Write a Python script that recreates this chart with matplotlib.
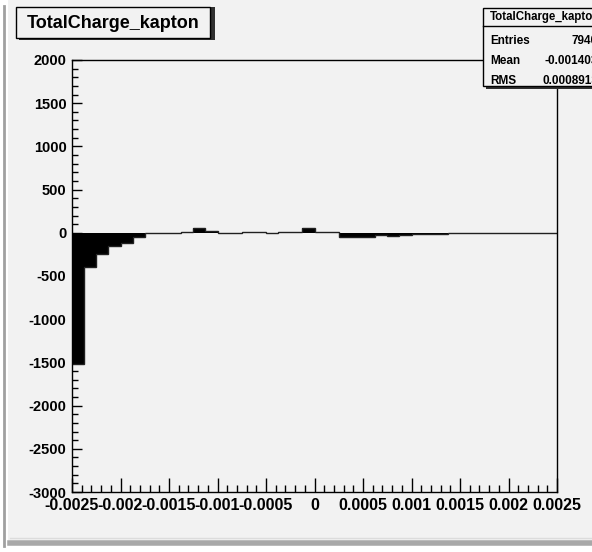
import numpy as np
import matplotlib
matplotlib.use("Agg")
import matplotlib.pyplot as plt
from matplotlib.patches import Rectangle
from matplotlib.lines import Line2D

# histogram TotalCharge_kapton, 40 bins in [-0.0025, 0.0025]
x_min, x_max = -0.0025, 0.0025
n_bins = 40
counts = [-1520, -400, -240, -150, -120, -45, -8, -5, -5, 10,
          50, 18, -3, -3, 10, 10, -2, 10, 5, 60,
          10, 15, -45, -50, -45, -30, -35, -25, -15, -10,
          -10, -8, 0, 0, 0, 0, 0, 0, 0, 0]

x_ticks = [-0.0025, -0.002, -0.0015, -0.001, -0.0005, 0, 0.0005, 0.001, 0.0015, 0.002, 0.0025]
x_labels = ["-0.0025", "-0.002", "-0.0015", "-0.001", "-0.0005", "0",
            "0.0005", "0.001", "0.0015", "0.002", "0.0025"]
y_ticks = [-3000, -2500, -2000, -1500, -1000, -500, 0, 500, 1000, 1500, 2000]

title = "TotalCharge_kapton"
stat_names = ["Entries", "Mean", "RMS"]
stat_values = ["7940", "-0.001403", "0.0008913"]

W, H = 592, 552
PAD = "#f2f2f2"
plt.rcParams["font.family"] = ["Liberation Sans", "DejaVu Sans"]
plt.rcParams["font.weight"] = "bold"


def fx(px):
    return px / W


def fy(py):
    return 1 - py / H


fig = plt.figure(figsize=(W / 100, H / 100), dpi=100, facecolor="white")

# canvas background and window border
fig.patches.append(Rectangle((fx(8), fy(540)), fx(W), 540 / H, transform=fig.transFigure,
                             facecolor=PAD, edgecolor="none", zorder=-10))
fig.lines.append(Line2D([fx(4), fx(4)], [fy(6), fy(546)], transform=fig.transFigure,
                        color="#a0a0a0", lw=2, zorder=-5))
fig.lines.append(Line2D([fx(10), fx(W)], [fy(543), fy(543)], transform=fig.transFigure,
                        color="#a8a8a8", lw=4, zorder=-5))
fig.lines.append(Line2D([fx(10), fx(W)], [fy(538), fy(538)], transform=fig.transFigure,
                        color="#dcdcdc", lw=1, zorder=-5))

ax = fig.add_axes([fx(72), fy(492), (557 - 72) / W, (492 - 60) / H])
ax.set_facecolor(PAD)

edges = np.linspace(x_min, x_max, n_bins + 1)
ax.stairs(counts, edges, baseline=0, fill=True, color="black", lw=0)
ax.stairs(counts, edges, baseline=None, color="#202020", lw=1)

ax.set_xlim(x_min, x_max)
ax.set_ylim(-3000, 2000)
ax.set_xticks(x_ticks)
ax.set_xticklabels(x_labels)
ax.set_xticks(np.linspace(x_min, x_max, 51), minor=True)
ax.set_yticks(y_ticks)
ax.set_yticklabels([str(v) for v in y_ticks])
ax.set_yticks(np.arange(-3000, 2001, 100), minor=True)

ax.tick_params(axis="x", which="major", direction="in", length=10, width=1, pad=4,
               labelsize=11.5)
ax.tick_params(axis="x", which="minor", direction="in", length=5, width=1)
ax.tick_params(axis="y", which="major", direction="in", length=7, width=1, pad=4,
               labelsize=10.5)
ax.tick_params(axis="y", which="minor", direction="in", length=4, width=1)
for sp in ax.spines.values():
    sp.set_linewidth(1)

# title box with shadow
fig.patches.append(Rectangle((fx(19), fy(40)), (212 - 16) / W, (40 - 7) / H,
                             transform=fig.transFigure, facecolor="#303030",
                             edgecolor="none", zorder=5))
fig.patches.append(Rectangle((fx(16), fy(38)), (210 - 16) / W, (38 - 7) / H,
                             transform=fig.transFigure, facecolor=PAD,
                             edgecolor="black", lw=1, zorder=6))
fig.text(fx(113), fy(23), title, ha="center", va="center", fontsize=13,
         fontweight="bold", zorder=7)

# statistics box
fig.patches.append(Rectangle((fx(486), fy(89)), (620 - 486) / W, (89 - 10) / H,
                             transform=fig.transFigure, facecolor="#303030",
                             edgecolor="none", zorder=5))
fig.patches.append(Rectangle((fx(483), fy(86)), (620 - 483) / W, (86 - 8) / H,
                             transform=fig.transFigure, facecolor=PAD,
                             edgecolor="black", lw=1, zorder=6))
fig.lines.append(Line2D([fx(483), fx(W)], [fy(26), fy(26)], transform=fig.transFigure,
                        color="black", lw=1, zorder=7))
fig.text(fx(490), fy(17), title, ha="left", va="center", fontsize=8.3,
         fontweight="bold", zorder=7)
for i, (name, val) in enumerate(zip(stat_names, stat_values)):
    yy = fy(41 + 20 * i)
    fig.text(fx(490), yy, name, ha="left", va="center", fontsize=8.5,
             fontweight="bold", zorder=7)
    fig.text(fx(598), yy, val, ha="right", va="center", fontsize=8.5,
             fontweight="bold", zorder=7)

fig.savefig("out.png", dpi=100, facecolor=fig.get_facecolor())
